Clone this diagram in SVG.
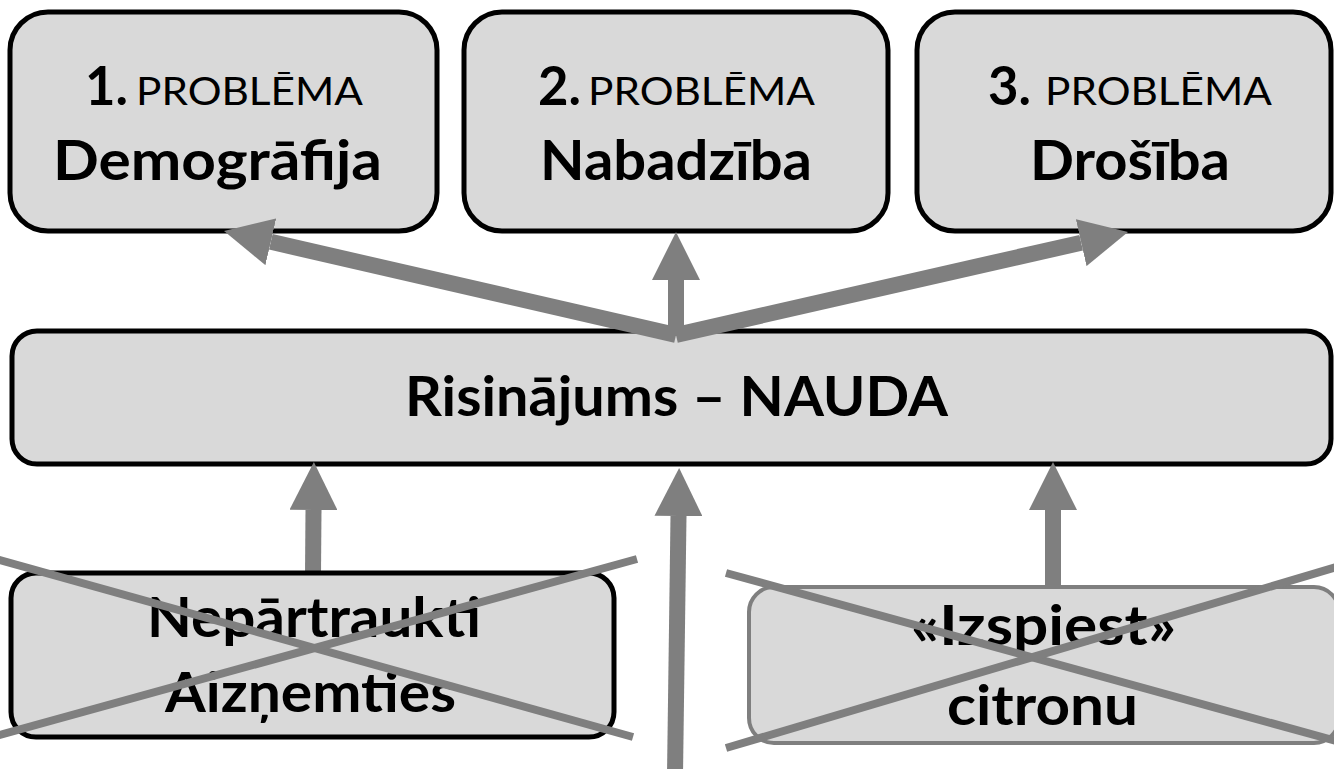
<svg xmlns="http://www.w3.org/2000/svg" width="1334" height="769" viewBox="0 0 1334 769">
<style>
.box{fill:#d9d9d9;stroke:#000;stroke-width:5}
.gbox{fill:#d9d9d9;stroke:#7f7f7f;stroke-width:4}
.t{font-family:Lato,"Liberation Sans",sans-serif;fill:#000}
.m{text-anchor:middle}
.b{font-weight:bold;font-size:55px}
.n{font-weight:bold;font-size:53px}
.p{font-weight:normal;font-size:39px}
.arr{stroke:#7f7f7f;stroke-width:16;fill:none;marker-end:url(#ah)}
.x{stroke:#7f7f7f;stroke-width:8}
</style>
<defs>
<marker id="ah" viewBox="0 0 48 48" markerWidth="48" markerHeight="48" markerUnits="userSpaceOnUse" refX="0" refY="24" orient="auto">
<path d="M0,0 L48,24 L0,48 z" fill="#7f7f7f"/>
</marker>
</defs>
<rect width="1334" height="769" fill="#fff"/>
<g id="problem1">
<rect class="box" x="10" y="12" width="427" height="219" rx="38"/>
<text class="t n" x="85" y="105" textLength="43" lengthAdjust="spacingAndGlyphs">1.</text>
<text class="t p" x="136" y="105" textLength="227" lengthAdjust="spacingAndGlyphs">PROBLĒMA</text>
<text class="t b m" x="217.5" y="180" textLength="329" lengthAdjust="spacingAndGlyphs">Demogrāfija</text>
</g>
<g id="problem2">
<rect class="box" x="464" y="12" width="424" height="219" rx="38"/>
<text class="t n" x="538" y="105" textLength="43" lengthAdjust="spacingAndGlyphs">2.</text>
<text class="t p" x="588" y="105" textLength="227" lengthAdjust="spacingAndGlyphs">PROBLĒMA</text>
<text class="t b m" x="676" y="180" textLength="272" lengthAdjust="spacingAndGlyphs">Nabadzība</text>
</g>
<g id="problem3">
<rect class="box" x="917" y="12" width="414" height="219" rx="38"/>
<text class="t n" x="988" y="105" textLength="43" lengthAdjust="spacingAndGlyphs">3.</text>
<text class="t p" x="1045" y="105" textLength="227" lengthAdjust="spacingAndGlyphs">PROBLĒMA</text>
<text class="t b m" x="1130" y="180" textLength="200" lengthAdjust="spacingAndGlyphs">Drošība</text>
</g>
<g id="solution">
<rect class="box" x="12" y="331" width="1319" height="133" rx="25"/>
<text class="t b m" x="676.5" y="416" textLength="543" lengthAdjust="spacingAndGlyphs">Risinājums – NAUDA</text>
</g>
<g id="connectors">
<line class="arr" x1="676" y1="335" x2="270.8" y2="241.8"/>
<line class="arr" x1="676" y1="335" x2="1081.2" y2="242.7"/>
<line class="arr" x1="676" y1="336" x2="676" y2="280"/>
<line class="arr" x1="675" y1="775" x2="678.5" y2="516"/>
<line class="arr" x1="313" y1="574" x2="313.5" y2="510"/>
<line class="arr" x1="1053" y1="588" x2="1053" y2="510"/>
</g>
<g id="borrow">
<rect class="box" x="11" y="573" width="603" height="164" rx="25"/>
<text class="t b m" x="314" y="637" textLength="334" lengthAdjust="spacingAndGlyphs">Nepārtraukti</text>
<text class="t b m" x="310.5" y="712" textLength="291" lengthAdjust="spacingAndGlyphs">Aizņemties</text>
<line class="x" x1="-4" y1="559" x2="633" y2="737"/>
<line class="x" x1="-4" y1="736" x2="637" y2="559"/>
</g>
<g id="lemon">
<rect class="gbox" x="749" y="587" width="590" height="156" rx="25"/>
<text class="t b m" x="1043.5" y="645" textLength="265" lengthAdjust="spacingAndGlyphs">«Izspiest»</text>
<text class="t b m" x="1042.5" y="725" textLength="191" lengthAdjust="spacingAndGlyphs">citronu</text>
<line class="x" x1="726" y1="573" x2="1340" y2="742"/>
<line class="x" x1="726" y1="748" x2="1340" y2="566"/>
</g>
</svg>
